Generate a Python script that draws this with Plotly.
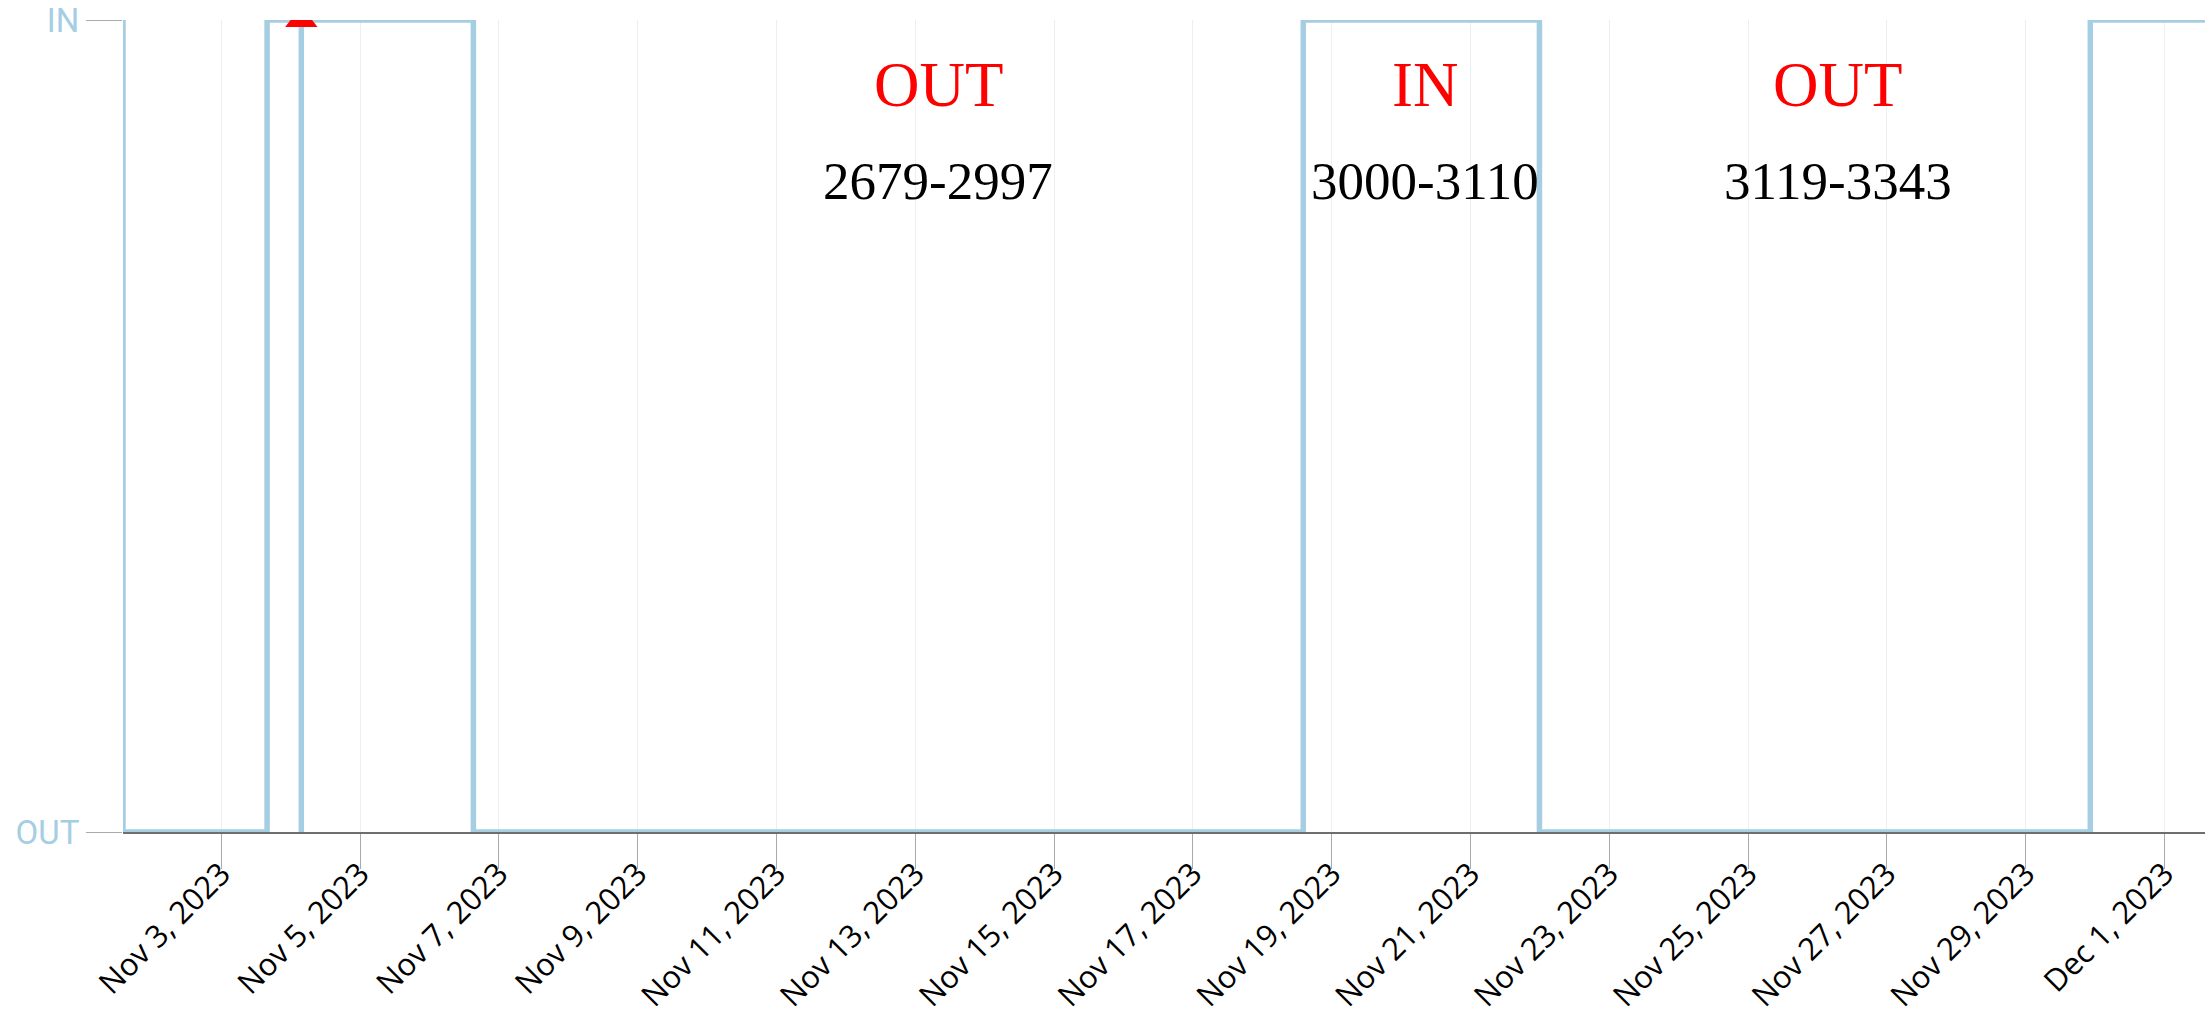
import plotly.graph_objects as go

# state changes (step line drawn "vh": each value is the state up to that time)
state_times = [
    "2023-11-01 14:00", "2023-11-03 15:50", "2023-11-04 03:40", "2023-11-04 03:40",
    "2023-11-06 15:10", "2023-11-18 14:10", "2023-11-21 23:50", "2023-11-29 22:20",
    "2023-12-01 14:00",
]
states = ["IN", "OUT", "IN", "OUT", "IN", "OUT", "IN", "OUT", "IN"]

# single flagged event
event_times = ["2023-11-04 03:40"]
event_states = ["IN"]

# period labels
label_times = ["2023-11-13 08:00", "2023-11-20 08:15", "2023-11-26 07:00"]
label_states = ["OUT", "IN", "OUT"]
label_ranges = ["2679-2997", "3000-3110", "3119-3343"]

state_order = ["OUT", "IN"]

blue = "#a6cee3"

fig = go.Figure()

fig.add_trace(
    go.Scatter(
        x=state_times,
        y=states,
        mode="lines",
        line=dict(color=blue, width=5.5, shape="vh"),
        hoverinfo="x+y",
    )
)

fig.add_trace(
    go.Scatter(
        x=event_times,
        y=event_states,
        mode="markers",
        marker=dict(symbol="triangle-up", size=28, color="red"),
    )
)

for t, s, r in zip(label_times, label_states, label_ranges):
    fig.add_annotation(
        x=t, y=0.92, xref="x", yref="paper", text=s, showarrow=False,
        xanchor="center", yanchor="middle",
        font=dict(family="Liberation Serif", size=63, color="red"),
    )
    fig.add_annotation(
        x=t, y=0.802, xref="x", yref="paper", text=r, showarrow=False,
        xanchor="center", yanchor="middle",
        font=dict(family="Liberation Serif", size=53, color="black"),
    )

fig.update_xaxes(
    type="date",
    range=[state_times[0], state_times[-1]],
    tick0="2023-11-03",
    dtick=2 * 86400000,
    tickformat="%b %-d, %Y",
    tickangle=-45,
    ticks="outside",
    ticklen=35,
    tickcolor="#aaaaaa",
    tickwidth=1,
    ticklabelstandoff=-26,
    tickfont=dict(family="Open Sans", size=31, color="black"),
    showgrid=True,
    gridcolor="#eeeeee",
    gridwidth=1,
    showline=True,
    linecolor="#6e6e6e",
    linewidth=2,
    zeroline=False,
    automargin=False,
)

fig.update_yaxes(
    type="category",
    categoryorder="array",
    categoryarray=state_order,
    range=[0, 1],
    ticks="outside",
    ticklen=36,
    tickcolor="#aaaaaa",
    tickwidth=1,
    tickfont=dict(family="Roboto", size=33, color=blue),
    showgrid=True,
    gridcolor="#eeeeee",
    showline=False,
    zeroline=False,
    automargin=False,
)

fig.update_layout(
    width=2205,
    height=1020,
    showlegend=False,
    paper_bgcolor="white",
    plot_bgcolor="white",
    margin=dict(l=123, r=0, t=20, b=188),
)

fig.write_html(
    "out.html",
    config={"displayModeBar": False},
    post_script="document.body.style.margin='0'; document.body.style.overflow='hidden';",
)
